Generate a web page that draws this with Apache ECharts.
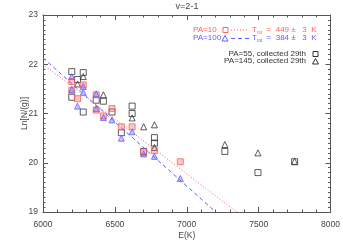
<!DOCTYPE html>
<html><head><meta charset="utf-8">
<script src="https://cdn.jsdelivr.net/npm/echarts@6/dist/echarts.min.js"></script>
<style>html,body{margin:0;padding:0;background:#fff}#c{width:343px;height:245px}</style>
</head><body><div id="c"></div>
<script>
const title = 'v=2-1';
const xTicks = [6000, 6500, 7000, 7500, 8000];
const yTicks = [19, 20, 21, 22, 23];
// PA=10 (red squares)
const pa10 = [[6200,21.65],[6200,21.47],[6240,21.3],[6280,21.58],[6370,21.38],[6370,21.07],[6420,20.95],[6480,21.1],[6545,20.73],[6620,20.73],[6700,20.2],[6775,20.25],[6955,20.02]];
// PA=100 (blue triangles)
const pa100 = [[6200,21.75],[6200,21.49],[6240,21.15],[6280,21.55],[6280,21.43],[6370,21.4],[6370,21.1],[6420,20.92],[6480,20.87],[6545,20.5],[6620,20.63],[6700,20.18],[6775,20.13],[6955,19.68]];
// PA=55 collected 29th (black squares)
const pa55 = [[6200,21.85],[6200,21.33],[6240,21.69],[6280,21.83],[6280,21.03],[6370,21.27],[6420,21.25],[6480,21.03],[6545,20.61],[6620,21.15],[6620,21.0],[6700,20.23],[6775,20.51],[6775,20.4],[7265,20.23],[7495,19.8],[7750,20.02]];
// PA=145 collected 29th (black triangles)
const pa145 = [[6240,21.6],[6280,21.75],[6420,21.38],[6620,20.91],[6700,20.73],[6775,20.77],[6775,20.31],[7265,20.37],[7495,20.2],[7750,20.03]];
// fit lines: [E, lnN] endpoints
const fit10 = [[6000,22.0],[8000,17.55]];
const fit100 = [[6000,22.13],[8000,16.92]];

const red = '#ff6060', blue = '#6060ff', gray = '#444';
const F = 'Liberation Sans';
const FS = 8.5, LFS = 8;
const chart = echarts.init(document.getElementById('c'), null, {renderer:'canvas'});
const aLine = {show:true,lineStyle:{color:'#555',width:1}};
const aTick = {show:true,inside:true,length:5,lineStyle:{color:'#555'}};
const mTick = n => ({show:true,splitNumber:n,length:2.5,lineStyle:{color:'#555'}});
chart.setOption({
  animation:false,
  title:{text:title,left:187,top:2,padding:0,textAlign:'center',textStyle:{fontFamily:F,fontSize:9,fontWeight:'normal',color:gray}},
  grid:{left:43,right:12,top:15,bottom:30},
  xAxis:[
    {type:'value',min:6000,max:8000,interval:500,name:'E(K)',nameLocation:'middle',nameGap:19,nameMoveOverlap:false,
      nameTextStyle:{fontFamily:F,fontSize:FS,color:gray},
      axisLabel:{fontFamily:F,fontSize:FS,color:gray,margin:8,formatter:v=>String(v)},
      axisLine:aLine,axisTick:aTick,minorTick:mTick(5),splitLine:{show:false}},
    {type:'value',min:6000,max:8000,interval:500,position:'top',axisLabel:{show:false},
      axisLine:aLine,axisTick:aTick,minorTick:mTick(5),splitLine:{show:false}}
  ],
  yAxis:[
    {type:'value',min:19,max:23,interval:1,name:'Ln[N/(g)]',nameLocation:'middle',nameGap:14,nameRotate:90,nameMoveOverlap:false,
      nameTextStyle:{fontFamily:F,fontSize:FS,color:gray},
      axisLabel:{fontFamily:F,fontSize:FS,color:gray,margin:5},
      axisLine:aLine,axisTick:aTick,minorTick:mTick(10),splitLine:{show:false}},
    {type:'value',min:19,max:23,interval:1,position:'right',axisLabel:{show:false},
      axisLine:aLine,axisTick:aTick,minorTick:mTick(10),splitLine:{show:false}}
  ],
  series:[
    {type:'line',data:fit10,symbol:'none',clip:true,lineStyle:{color:red,width:1,type:[1,2]}},
    {type:'line',data:fit100,symbol:'none',clip:true,lineStyle:{color:blue,width:1,type:[4,3]}},
    {type:'scatter',data:pa55,symbol:'rect',symbolSize:6,itemStyle:{color:'rgba(0,0,0,0)',borderColor:'#333',borderWidth:1}},
    {type:'scatter',data:pa145,symbol:'triangle',symbolSize:6,itemStyle:{color:'rgba(0,0,0,0)',borderColor:'#333',borderWidth:1}},
    {type:'scatter',data:pa10,symbol:'rect',symbolSize:6,itemStyle:{color:'rgba(255,96,96,0.45)',borderColor:red,borderWidth:1}},
    {type:'scatter',data:pa100,symbol:'triangle',symbolSize:6,itemStyle:{color:'rgba(96,96,255,0.45)',borderColor:blue,borderWidth:1}}
  ],
  graphic:[
    {type:'text',left:193,top:26,style:{text:'PA=10',fontFamily:F,fontSize:LFS,fill:red}},
    {type:'rect',shape:{x:223,y:27.5,width:5,height:5},style:{fill:'none',stroke:red,lineWidth:1}},
    {type:'line',shape:{x1:231,y1:30,x2:249,y2:30},style:{stroke:red,lineWidth:1,lineDash:[1,2]}},
    {type:'text',left:252,top:26,style:{rich:{a:{fontFamily:F,fontSize:LFS,fill:red},s:{fontFamily:F,fontSize:4.5,fill:red,padding:[6,0,0,0]}},text:'{a|T}{s|rot}{a|  =  449 ±   3  K}'}},
    {type:'text',left:193,top:34,style:{text:'PA=100',fontFamily:F,fontSize:LFS,fill:blue}},
    {type:'polygon',shape:{points:[[222,41],[228,41],[225,35.5]]},style:{fill:'none',stroke:blue,lineWidth:1}},
    {type:'line',shape:{x1:231,y1:38.5,x2:249,y2:38.5},style:{stroke:blue,lineWidth:1,lineDash:[4,3]}},
    {type:'text',left:252,top:34,style:{rich:{a:{fontFamily:F,fontSize:LFS,fill:blue},s:{fontFamily:F,fontSize:4.5,fill:blue,padding:[6,0,0,0]}},text:'{a|T}{s|rot}{a|  =  384 ±   3  K}'}},
    {type:'text',right:37,top:50,style:{text:'PA=55, collected 29th',fontFamily:F,fontSize:LFS,fill:'#333'}},
    {type:'rect',shape:{x:313,y:51.5,width:5,height:5},style:{fill:'none',stroke:'#333',lineWidth:1}},
    {type:'text',right:37,top:57,style:{text:'PA=145, collected 29th',fontFamily:F,fontSize:LFS,fill:'#333'}},
    {type:'polygon',shape:{points:[[312.5,64],[318.5,64],[315.5,58.5]]},style:{fill:'none',stroke:'#333',lineWidth:1}}
  ]
});
</script></body></html>
